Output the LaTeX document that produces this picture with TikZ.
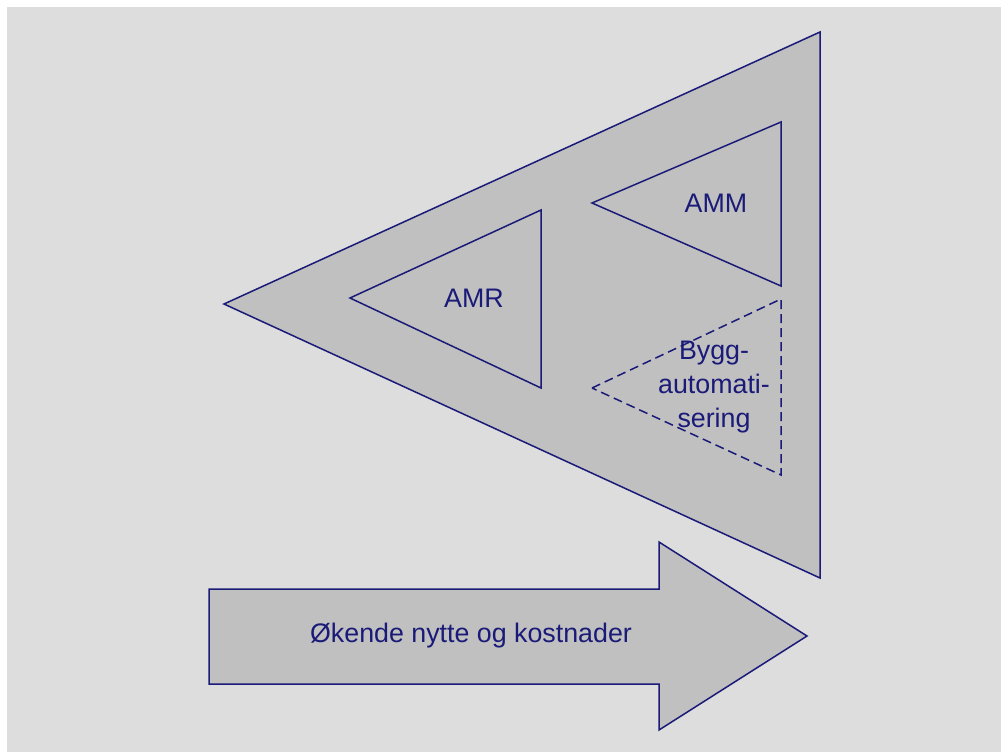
\documentclass[tikz,border=0pt]{standalone}
\usepackage{fontspec}
\setmainfont{Liberation Sans}
\usepackage{xcolor}
\usetikzlibrary{calc}

\definecolor{bgGray}{HTML}{DDDDDD}
\definecolor{fillGray}{HTML}{C0C0C0}
\definecolor{lineNavy}{HTML}{1A1A78}

\tikzset{
	wedge/.style = {draw = lineNavy, fill = fillGray, line width = 1.5pt, line join = miter},
	dashwedge/.style = {wedge, dash pattern = on 9pt off 5pt},
	label text/.style = {text = lineNavy, font = \fontsize{26.8}{34}\selectfont, align = center, inner sep = 0pt}
}

\begin{document}
\begin{tikzpicture}[x = 1pt, y = -1pt]
			\useasboundingbox (0,0) rectangle (1001,752);
			\fill [bgGray] (7,7) rectangle (1001,752);

			% outer triangle
			\coordinate (outerTip) at (224,304);
			\coordinate (outerTop) at (820,32);
			\coordinate (outerBot) at (820,578);
			\draw [wedge] (outerTip) -- (outerTop) -- (outerBot) -- cycle;

			\begin{scope}
				\coordinate (amrTip) at (350,298);
				\coordinate (amrTop) at (541,210);
				\coordinate (amrBot) at (541,388);
				\draw [wedge] (amrTip) -- (amrTop) -- (amrBot) -- cycle;
				\node [label text] (amr) at (474,298) {AMR};
			\end{scope}

			\begin{scope}
				\coordinate (ammTip) at (592,203);
				\coordinate (ammTop) at (781,122);
				\coordinate (ammBot) at (781,286);
				\draw [wedge] (ammTip) -- (ammTop) -- (ammBot) -- cycle;
				\node [label text] (amm) at (716,203) {AMM};
			\end{scope}

			\begin{scope}
				\coordinate (byggTip) at (592,388);
				\coordinate (byggTop) at (781,299);
				\coordinate (byggBot) at (781,475);
				\draw [dashwedge] (byggTip) -- (byggTop) -- (byggBot) -- cycle;
				\node [label text] (bygg) at (714,387) {Bygg-\\automati-\\sering};
			\end{scope}

			% arrow
			\begin{scope}
				\draw [wedge] (209,589) -- (659,589) -- (659,542) -- (807,636)
					-- (659,730) -- (659,684) -- (209,684) -- cycle;
				\node [label text] (gain) at (471,636) {Økende nytte og kostnader};
			\end{scope}
		\end{tikzpicture}
\end{document}
